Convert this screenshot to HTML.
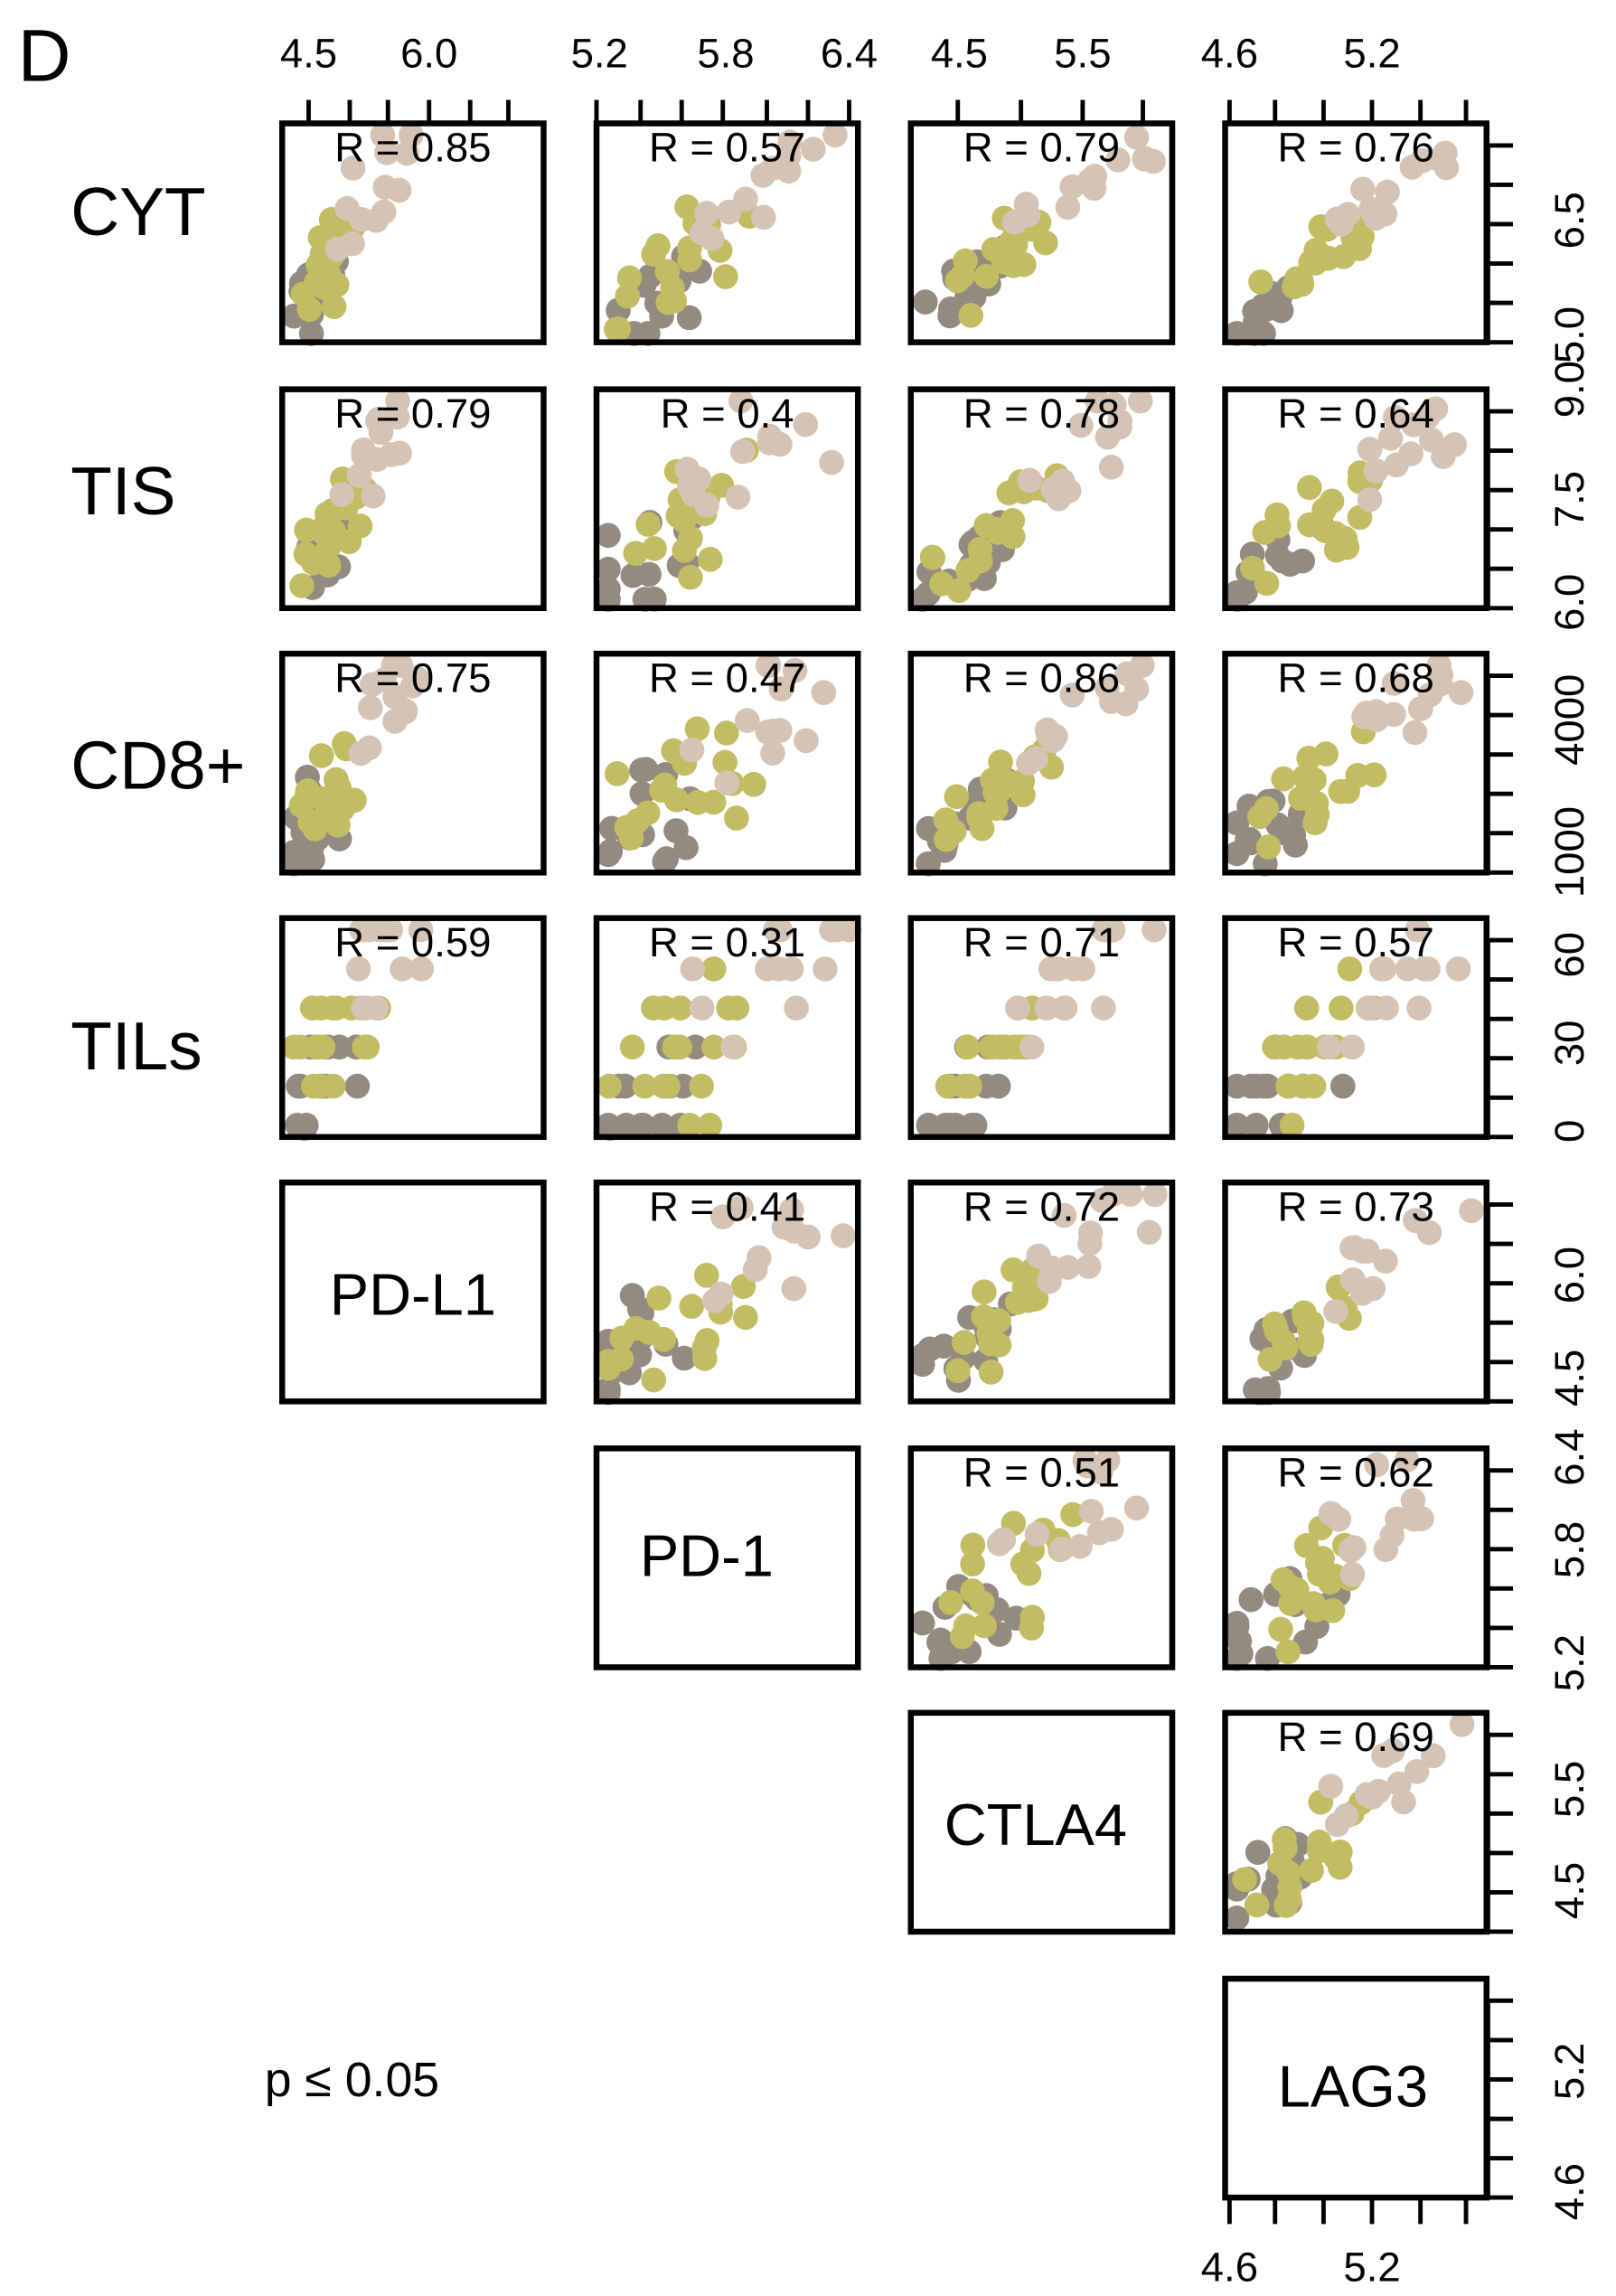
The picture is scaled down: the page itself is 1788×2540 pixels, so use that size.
<!DOCTYPE html>
<html><head><meta charset="utf-8"><style>
html,body{margin:0;padding:0;background:#fff;}
svg{display:block;font-family:"Liberation Sans",sans-serif;}
</style></head><body>
<svg id="s" width="1788" height="2540" viewBox="0 0 1100 1563" xmlns="http://www.w3.org/2000/svg">
<text x="12" y="55" font-size="50">D</text>
<text x="48" y="160" font-size="46">CYT</text>
<text x="48" y="350" font-size="46">TIS</text>
<text x="48" y="537" font-size="46">CD8+</text>
<text x="48" y="728" font-size="46">TILs</text>
<text x="281" y="895" font-size="40" text-anchor="middle">PD-L1</text>
<text x="481" y="1073" font-size="40" text-anchor="middle">PD-1</text>
<text x="705" y="1256" font-size="40" text-anchor="middle">CTLA4</text>
<text x="921" y="1434" font-size="40" text-anchor="middle">LAG3</text>
<text x="180" y="1427" font-size="33">p ≤ 0.05</text>
<g id="g"></g>
</svg>
<script>
var NS="http://www.w3.org/2000/svg",g=document.getElementById('g');
function el(t,a,txt){var e=document.createElementNS(NS,t);for(var k in a)e.setAttribute(k,a[k]);if(txt!=null)e.textContent=txt;g.appendChild(e);return e;}
var cx=[192,406,620,834],W=178,ry=[84,265,445,625,805,986,1166,1347],H=149;
var R=[["0.85","0.57","0.79","0.76"],["0.79","0.4","0.78","0.64"],["0.75","0.47","0.86","0.68"],["0.59","0.31","0.71","0.57"],[null,"0.41","0.72","0.73"],[null,null,"0.51","0.62"],[null,null,null,"0.69"]];
var seed=7;function rnd(){seed=(seed*16807)%2147483647;return seed/2147483647;}
var cols=["#938a80","#c2bc63","#d5c4b5"];
for(var r=0;r<7;r++)for(var c=0;c<4;c++){var v=R[r][c];if(!v)continue;
 var x0=cx[c],y0=ry[r],rr=parseFloat(v);
 var sx=(c==0?0.45:0.9);
 for(var i=0;i<45;i++){
  var t=rnd(),cl;
  if(i<14){t=t*0.35;cl=0;}else if(i<32){t=0.15+t*0.4;cl=1;}else{t=0.5+t*0.5;cl=2;}
  var nx=(rnd()-0.5)*0.5*(1.2-rr),ny=(rnd()-0.5)*0.6*(1.2-rr);
  var px=x0+8+(t*sx+nx)*(W-16), py=y0+H-8-(t+ny)*(H-16);
  if(r==3){py=y0+H-8-Math.round((t+ny)*5)/5*(H-16);}
  px=Math.max(x0+8,Math.min(x0+W-6,px));py=Math.max(y0+8,Math.min(y0+H-6,py));
  el('circle',{cx:px,cy:py,r:8.5,fill:cols[cl]});
 }
}
for(var r=0;r<8;r++)for(var c=0;c<4;c++){
 var v=r<7?R[r][c]:null;var diag=(r>=4&&c==r-4);
 if(!v&&!diag)continue;
 el('rect',{x:cx[c],y:ry[r],width:W,height:H,fill:'none',stroke:'#000','stroke-width':4});
 if(v)el('text',{x:cx[c]+W/2,y:ry[r]+26,'font-size':28,'text-anchor':'middle'},"R = "+v);
}
var tt=[[210,238,264,292,320,346],[406,436,464,492,522,550,578],[652,695,737,778],[837,868,901,934,967,998]];
tt.forEach(function(a){a.forEach(function(x){el('line',{x1:x,y1:68,x2:x,y2:84,stroke:'#000','stroke-width':3});});});
var tl=[[210,"4.5"],[292,"6.0"],[408,"5.2"],[494,"5.8"],[578,"6.4"],[653,"4.5"],[737,"5.5"],[837,"4.6"],[934,"5.2"]];
tl.forEach(function(p){el('text',{x:p[0],y:46,'font-size':28,'text-anchor':'middle'},p[1]);});
[837,868,901,934,967,998].forEach(function(x){el('line',{x1:x,y1:1496,x2:x,y2:1514,stroke:'#000','stroke-width':3});});
el('text',{x:837,y:1553,'font-size':28,'text-anchor':'middle'},"4.6");
el('text',{x:934,y:1553,'font-size':28,'text-anchor':'middle'},"5.2");
for(var r=0;r<8;r++){var y0=ry[r];var n=6;
 for(var i=0;i<n;i++){var y=y0+15+i*(H-15)/(n-1);el('line',{x1:1012,y1:y,x2:1030,y2:y,stroke:'#000','stroke-width':3});}
 el('line',{x1:1013,y1:y0+15,x2:1013,y2:y0+H,stroke:'#000','stroke-width':3});}
var rl=[[150,"6.5"],[228,"5.0"],[265,"9.0"],[340,"7.5"],[410,"6.0"],[490,"4000"],[580,"1000"],[650,"60"],[710,"30"],[770,"0"],[868,"6.0"],[938,"4.5"],[992,"6.4"],[1055,"5.8"],[1132,"5.2"],[1218,"5.5"],[1287,"4.5"],[1410,"5.2"],[1492,"4.6"]];
rl.forEach(function(p){el('text',{x:0,y:0,'font-size':28,'text-anchor':'middle',transform:'translate(1078,'+p[0]+') rotate(-90)'},p[1]);});
</script>
</body></html>
